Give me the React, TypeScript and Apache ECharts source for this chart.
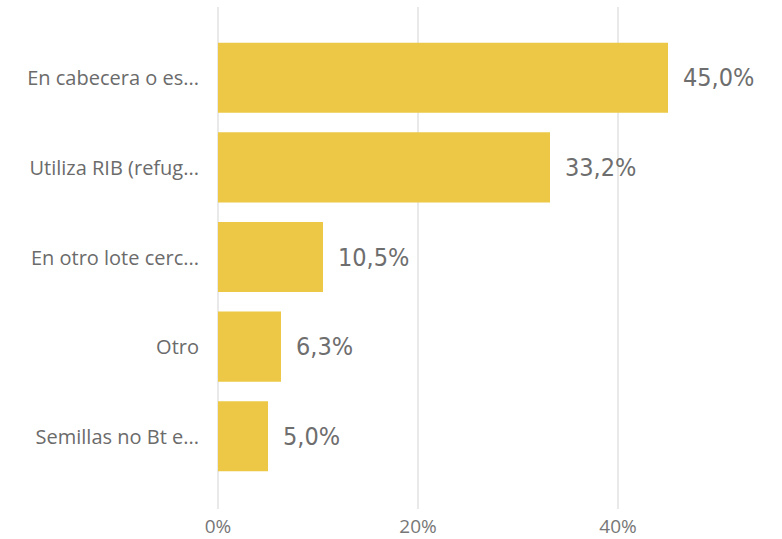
import React, { useEffect, useRef } from "react";
import * as echarts from "echarts";

const categories = [
  "En cabecera o es...",
  "Utiliza RIB (refug...",
  "En otro lote cerc...",
  "Otro",
  "Semillas no Bt e...",
];
const values = [45.0, 33.2, 10.5, 6.3, 5.0];
const axisMax = 55;
const axisInterval = 20;

export default function App() {
  const ref = useRef<HTMLDivElement>(null);
  useEffect(() => {
    if (!ref.current) return;
    const chart = echarts.init(ref.current, undefined, { renderer: "svg" });
    const labelFont = '"Segoe UI", "Open Sans", sans-serif';
    chart.setOption({
      animation: false,
      backgroundColor: "#ffffff",
      grid: [
        { left: 218, right: 14, top: 33, bottom: 58, containLabel: false },
        { left: 218, right: 14, top: 7, bottom: 30, containLabel: false },
      ],
      xAxis: [
        {
          gridIndex: 0,
          type: "value",
          min: 0,
          max: axisMax,
          interval: axisInterval,
          axisLine: { show: false },
          axisTick: { show: false },
          axisLabel: { show: false },
          splitLine: { show: false },
        },
        {
          gridIndex: 1,
          type: "value",
          min: 0,
          max: axisMax,
          interval: axisInterval,
          axisLine: { show: false },
          axisTick: { show: false },
          axisLabel: {
            show: true,
            showMaxLabel: false,
            formatter: (v: number) => `${v}%`,
            color: "#777777",
            fontSize: 19,
            lineHeight: 19,
            fontFamily: labelFont,
            margin: 7,
          },
          splitLine: {
            show: true,
            showMaxLine: false,
            lineStyle: { color: "#e9e9e9", width: 2 },
          },
        },
      ],
      yAxis: [
        {
          gridIndex: 0,
          type: "category",
          data: categories,
          inverse: true,
          axisLine: { show: false },
          axisTick: { show: false },
          axisLabel: {
            color: "#6b6b6b",
            fontSize: 20,
            fontFamily: labelFont,
            margin: 19,
          },
        },
        {
          gridIndex: 1,
          type: "category",
          data: categories,
          show: false,
        },
      ],
      series: [
        {
          type: "bar",
          xAxisIndex: 0,
          yAxisIndex: 0,
          data: values,
          barCategoryGap: "21.8%",
          itemStyle: { color: "#ECC846" },
          label: {
            show: true,
            position: "right",
            distance: 15,
            formatter: (p: any) => `${p.value.toFixed(1).replace(".", ",")}%`,
            color: "#6e6e6e",
            fontSize: 25,
            fontFamily: '"DejaVu Sans Condensed", "DejaVu Sans", sans-serif',
          },
        },
      ],
    });
    return () => chart.dispose();
  }, []);
  return <div ref={ref} style={{ width: 782, height: 539, position: "absolute", left: 0, top: 0 }} />;
}
